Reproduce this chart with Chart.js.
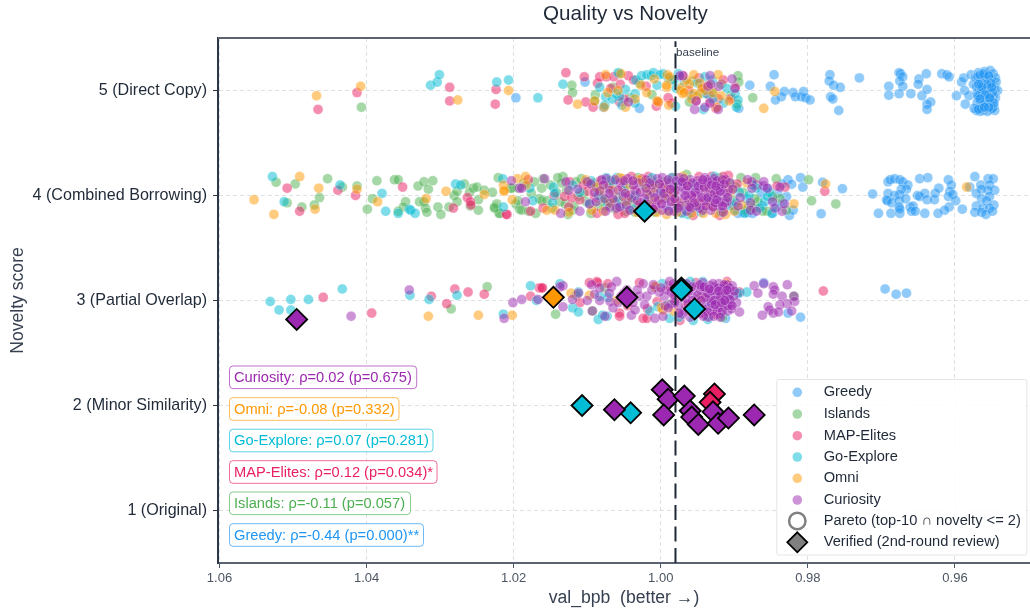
<!DOCTYPE html>
<html><head><meta charset="utf-8">
<script src="https://cdn.jsdelivr.net/npm/chart.js@4"></script>
<style>html,body{margin:0;padding:0;background:#fff}canvas{display:block}</style>
</head><body><canvas id="c" width="1030" height="613"></canvas>
<script>
const seriesNames = ["Greedy","Islands","MAP-Elites","Go-Explore","Omni","Curiosity"];
const seriesColors = ["33,150,243","76,175,80","233,30,99","0,188,212","255,152,0","156,39,176"];
const scoreLabels = {1:"1 (Original)",2:"2 (Minor Similarity)",3:"3 (Partial Overlap)",4:"4 (Combined Borrowing)",5:"5 (Direct Copy)"};
const xTicks = [1.06,1.04,1.02,1.00,0.98,0.96];
const baselineValue = 0.998;
const correlations = ["Curiosity: ρ=0.02 (p=0.675)","Omni: ρ=-0.08 (p=0.332)","Go-Explore: ρ=0.07 (p=0.281)","MAP-Elites: ρ=0.12 (p=0.034)*","Islands: ρ=-0.11 (p=0.057)","Greedy: ρ=-0.44 (p=0.000)**"];

const greedy = [
[.9846,5.15],[.9879,5.05],[.9851,5.04],[.9832,4.99],[.9836,4.94],[.9844,4.91],[.9820,4.98],[.9817,4.94],[.9806,4.99],[.9809,4.94],[.9803,4.93],[.9797,4.91],[.9770,5.15],[.9771,5.09],[.9765,5.05],[.9756,5.03],[.9769,4.94],[.9766,4.92],[.9758,4.81],[.9730,5.12],[.9894,4.83],[1.0103,5.08],[1.0029,4.83],[1.0078,4.84],[1.0197,4.93],
[.9676,5.17],[.9674,5.16],[.9671,5.13],[.9675,5.09],[.9671,5.04],[.9690,5.04],[.9690,4.955],[.9676,4.97],[.9660,4.97],[.9645,4.95],[.9638,5.01],[.9649,5.11],[.9650,5.06],[.9639,5.16],[.9633,4.89],[.9638,4.87],[.9638,4.82],[.9618,5.16],[.9611,5.15],[.9608,5.13],[.9591,5.08],[.9588,5.12],[.9578,5.15],[.9587,5.0],[.9598,4.95],[.9581,4.95],[.9586,4.87],[.9575,5.06],
[.9572,5.12],[.9568,5.17],[.9563,5.14],[.9560,5.18],[.9556,5.15],[.9552,5.19],[.9548,5.16],[.9545,5.12],[.9550,5.11],[.9555,5.09],[.9560,5.1],[.9566,5.08],[.9571,5.04],[.9567,5.02],[.9562,5.05],[.9558,5.03],[.9553,5.06],[.9548,5.05],[.9544,5.08],[.9546,5.01],[.9542,5.0],[.9551,5.0],[.9556,4.99],[.9561,5.0],[.9565,4.97],[.9570,4.98],[.9568,4.93],[.9563,4.95],[.9558,4.94],[.9553,4.96],[.9548,4.95],[.9545,4.93],[.9549,4.9],[.9555,4.9],[.9560,4.91],[.9565,4.89],[.9570,4.88],[.9567,4.84],[.9562,4.86],[.9557,4.85],[.9552,4.87],[.9547,4.85],[.9546,4.81],[.9551,4.82],[.9556,4.8],[.9561,4.81],[.9566,4.8],[.9571,4.81],[.9574,4.83],[.9569,5.13],[.9564,5.07],[.9559,5.13],[.9554,5.02],[.9549,4.98],[.9557,4.97],[.9564,5.01],[.9569,4.95],[.9552,4.92],[.9559,4.88],[.9564,4.83],[.9549,4.83],
[.9566,5.15],[.9561,5.16],[.9554,5.14],[.9551,5.07],[.9557,5.06],[.9563,5.03],[.9568,5.06],[.9550,5.03],[.9559,4.96],[.9566,4.92],[.9547,4.88],[.9554,4.84],[.9568,4.82],[.9560,4.84],[.9553,4.93],
[.9827,4.15],[.9810,4.17],[.9822,4.107],[.9807,4.08],[.9780,4.126],[.9753,4.065],[.9782,3.827],[.9888,3.836],[.9882,3.836],[.9863,4.02],[.9868,4.1],[.9856,4.07],[.9848,3.83],[.9825,3.81],[.9820,3.86],[.9834,3.93],[.9848,3.96],[.9875,3.83],[.9862,3.9],[.9841,4.02],[.9829,3.99],[.9895,3.83],[.9835,4.11],
[.9712,4.014],[.9704,3.83],[.9687,3.83],[.9675,3.83],[.9691,4.13],[.9688,4.15],[.9682,4.16],[.9675,4.15],[.9671,4.13],[.9664,4.10],[.9666,4.06],[.9673,4.06],[.9675,4.01],[.9682,4.0],[.9691,4.02],[.9693,3.96],[.9692,3.95],[.9686,3.93],[.9676,3.95],[.9676,3.89],[.9675,3.87],[.9667,3.97],[.9661,3.89],[.9657,3.90],[.9659,3.85],[.9654,3.85],[.9641,3.83],[.9648,4.16],[.9637,4.17],[.9651,4.0],[.9648,3.99],[.9641,4.02],[.9638,3.96],[.9628,3.96],[.9627,4.02],[.9622,4.07],[.9609,4.15],[.9605,4.10],[.9607,4.04],[.9609,3.99],[.9603,4.01],[.9599,3.95],[.9608,3.89],[.9614,3.86],[.9623,3.83],[.9590,3.87],[.9573,4.18],[.9555,4.16],[.9548,4.16],[.9565,4.10],[.9553,4.10],[.9580,4.08],[.9546,4.05],[.9555,4.05],[.9564,4.06],[.9571,4.02],[.9564,3.97],[.9553,3.99],[.9557,3.95],[.9547,3.91],[.9571,3.90],[.9562,3.88],[.9553,3.88],[.9573,3.84],[.9564,3.84],[.9558,3.82],[.9549,3.85],
[.9810,2.84],[.9827,2.88],[.9860,3.17],[.9909,3.12],[.9695,3.11],[.9680,3.06],[.9666,3.07],[.9893,3.07],[.9933,2.96],[.9912,2.83]
];
const islands = [
[1.0407,4.84],[1.0121,5.05],[1.0120,4.98],[1.0089,4.96],[1.0090,4.9],[1.0065,5.03],[.9895,5.14],[.9894,5.08],[.9875,4.93],[.9896,4.87],[1.0056,5.16],[.9947,4.97],[.9961,4.89],[1.0029,5.07],[.9929,4.98],[1.0042,4.93],[.9985,5.1],[.9918,5.06],[.9905,4.95],[1.0012,4.96],[.9956,5.09],
[1.0523,4.126],[1.0497,4.11],[1.0453,4.16],[1.0413,4.09],[1.0433,4.08],[1.0464,3.98],[1.0471,3.91],[1.0488,3.89],[1.0508,3.93],[1.0386,4.14],[1.0362,4.15],[1.0357,4.15],[1.0392,3.97],[1.0399,3.87],[1.0347,3.94],[1.0350,3.89],[1.0357,3.85],[1.0330,4.09],[1.0322,4.13],[1.0310,4.14],[1.0316,4.06],[1.0328,3.94],[1.0322,3.94],[1.0320,3.88],[1.0318,3.84],[1.0303,3.89],[1.0299,3.82],[1.0288,3.89],[1.0281,4.0],[1.0277,4.04],[1.0277,3.94],[1.0267,4.11],[1.0260,4.03],[1.0255,4.07],[1.0250,4.08],[1.0240,4.05],[1.0229,4.03],[1.0248,3.96],[1.0259,3.9],[1.0248,3.86],[1.0226,3.89],[1.0223,3.92],[1.0220,3.83],[1.0197,3.92],[1.0192,3.87],[1.0221,4.17],[1.0204,4.07],[1.0194,4.07],
[1.0160,4.16],[1.0162,4.07],[1.0133,4.18],[1.0140,4.17],[1.0108,4.16],[1.0115,4.13],[1.0165,3.97],[1.0162,3.95],[1.0189,3.86],[1.0194,3.95],[1.0180,3.85],[1.0170,3.83],[1.0126,3.82],[1.0137,3.94],[1.0087,4.07],[1.0101,3.94],[1.0219,3.83],[1.0226,3.88],[1.0203,4.07],
[1.0150,4.1],[1.0148,3.88],[1.0128,4.05],[1.0120,3.86],[1.0105,4.02],[1.0095,3.83],[1.0080,3.98],[1.0068,4.14],[1.0062,3.87],[1.0050,4.04],[1.0038,3.93],[1.0022,4.1],[1.0008,3.84],[.9994,4.13],[.9980,3.94],[1.0118,3.9],[1.0135,4.12],[1.0176,4.02],[1.0186,4.12],[1.0090,4.12],[1.0075,3.9],[1.0043,3.96],[1.0015,4.01],[.9960,3.86],[.9920,4.17],[.9888,4.03],[.9880,3.9],[.9855,3.85],[.9838,3.97],
[1.0172,4.13],[1.0155,3.95],[1.0142,4.03],[1.0130,3.92],[1.0112,3.99],[1.0098,4.12],[1.0085,3.9],[1.0072,4.08],[1.0058,3.98],[1.0030,3.9],[1.0005,4.09],[.9912,3.95],[.9906,4.12],[.9868,3.94],[.9885,3.86],
[.9795,3.95],[.9762,3.92],[.9799,4.15],[.9891,4.17],[.9871,4.17],[.9843,4.16],[.9898,4.08],[.9872,3.97],[.9874,3.88],[.9902,3.96],[.9848,3.99],[.9829,3.86],[.9861,3.85],[.9965,4.2],[1.0031,4.17],[1.0047,3.85],[1.0011,4.13],[1.0075,3.95],[1.0035,3.84],[.9975,3.88],
[1.0236,3.13],[1.0285,2.92],[1.0143,2.87],[1.0093,2.9],[1.0076,3.12],[.9916,2.84],[.9819,3.04],[1.0115,3.05],[1.0040,3.02],[.9990,2.96]
];
const mapElites = [
[1.0466,4.82],[1.0413,4.98],[1.0287,5.03],[1.0287,4.9],[1.0224,5.01],[1.0225,4.87],[1.0129,5.17],[1.0126,4.91],[1.0104,5.13],[1.0102,4.89],[1.0086,5.07],[1.0092,4.84],[1.0083,5.13],[1.0074,5.13],[1.0064,5.13],[1.0055,5.06],[1.0044,5.14],[1.0056,4.89],[1.0006,4.85],[.9990,4.93],[1.0004,4.89],[.9899,5.03],[.9922,4.92],[.9952,4.9],[.9970,5.14],[.9933,4.89],[.9925,4.83],[.9942,5.03],[1.0068,5.02],[1.0050,4.92],[.9985,4.88],[.9962,5.0],[.9915,5.1],[.9905,4.92],[1.0020,5.04],[1.0037,5.1],[.9948,5.12],[.9935,4.96],
[1.0508,4.07],[1.0491,3.85],[1.0439,4.05],[1.0415,4.0],[1.0351,4.08],[1.0282,3.88],[1.0263,3.98],[1.0259,3.94],[1.0258,3.91],[1.0209,3.82],[1.0180,4.15],[1.0177,3.85],[1.0210,3.82],[1.0160,3.88],[1.0125,3.89],[1.0131,3.99],[1.0124,4.13],[1.0121,3.98],[1.0110,3.96],[1.0099,4.04],[1.0087,3.83],[1.0058,3.82],[1.0040,4.18],[.9908,4.19],[.9948,4.18],[.9931,4.18],[.9956,3.81],[.9920,3.81],[.9777,4.04],[.9831,4.08],[1.0011,3.88],[.9984,4.17],[.9977,3.88],[.9938,3.97],[.9902,3.91],[1.0029,3.88],[1.0049,3.83],
[1.0105,4.1],[1.0082,4.14],[1.0063,3.95],[1.0052,4.08],[1.0033,4.03],[1.0017,4.18],[1.0002,3.95],[.9990,4.04],[.9972,3.84],[.9962,4.1],[.9925,4.12],[.9915,3.87],[.9896,4.11],[.9870,4.1],[.9842,4.09],[1.0028,3.93],[1.0090,3.98],
[1.0145,4.0],[1.0070,4.1],[1.0043,4.0],[1.0025,4.16],[.9997,4.1],[.9982,4.03],[.9955,3.98],[.9942,3.93],[.9930,3.9],[.9915,4.18],
[1.0459,3.03],[1.0393,2.88],[1.0312,3.04],[1.0291,2.97],[1.0280,3.11],[1.0262,3.08],[1.0240,3.06],[1.0177,3.04],[1.0165,3.12],[1.0162,3.12],[1.0110,2.98],[1.0087,3.18],[1.0072,3.16],[1.0056,2.88],[1.0018,2.92],[1.0024,2.83],[.9779,3.09],[.9893,3.08],[1.0019,2.83],[1.0161,3.12],[1.0086,3.17],[1.0097,3.17],[1.0056,2.85],[1.0029,3.17],[.9974,2.81],[.9938,2.85],[.9990,3.14],[.9965,2.95],[.9952,3.17],[.9925,2.87],[1.0005,2.99],[1.0045,2.95],[.9980,3.02],[.9910,3.18]
];
const goExplore = [
[1.0313,5.05],[1.0304,5.08],[1.0301,5.15],[1.0223,5.08],[1.0207,5.1],[1.0167,4.93],[1.0133,5.06],[1.0083,5.03],[1.0058,5.17],[1.0060,4.97],[1.0075,4.94],[1.0053,4.86],[1.0056,4.94],[1.0035,4.97],[1.0034,5.1],[1.0026,5.14],[1.0019,5.15],[1.0013,5.14],[.9997,5.16],[1.0005,5.05],[.9982,5.1],[.9980,4.85],[.9976,5.16],[.9940,5.13],[.9942,4.82],[.9950,5.07],[.9938,4.97],[.9899,4.97],[.9895,4.91],[.9897,4.84],[1.0035,4.88],[1.0076,4.86],[.9929,4.92],[1.0066,4.92],[1.0010,5.17],[.9990,5.12],[.9968,5.08],[.9958,4.95],[.9930,5.1],[.9915,4.88],[.9910,5.02],[1.0048,5.01],[1.0001,5.15],[.9979,5.02],
[1.0528,4.18],[1.0512,3.94],[1.0436,4.1],[1.0379,4.02],[1.0374,3.85],[1.0357,3.83],[1.0342,3.87],[1.0340,3.86],[1.0334,3.83],[1.0279,4.11],[1.0272,4.1],[1.0214,3.89],[1.0215,4.16],[1.0178,4.07],[1.0174,3.95],[1.0146,4.08],[1.0144,4.02],[1.0147,3.93],[1.0074,4.17],[1.0060,4.17],[1.0060,3.94],[1.0097,3.92],
[.9963,3.82],[.9950,3.88],[.9899,3.86],[.9883,3.97],[.9886,3.83],[.9849,3.83],[.9977,3.89],[.9927,4.18],[.9870,4.07],[1.0035,4.0],[1.0047,4.1],[1.0052,3.91],[.9859,3.94],[.9843,3.89],
[1.0120,4.1],[1.0085,4.0],[1.0026,3.85],[1.0012,4.17],[.9996,3.98],[.9985,4.17],[.9971,3.83],[.9945,3.84],[.9918,3.84],[.9905,3.9],[.9893,4.03],[.9880,4.0],[.9865,3.88],[1.0065,4.13],[1.0038,3.87],[.9973,4.14],[.9955,4.1],
[1.0110,4.03],[1.0095,4.14],[1.0072,3.92],[1.0020,3.93],[1.0000,4.02],[.9990,3.86],[.9965,3.9],[.9935,3.96],[.9898,3.93],[.9875,4.1],[.9855,3.99],[.9852,4.03],
[1.0531,2.99],[1.0519,2.91],[1.0503,3.01],[1.0479,3.01],[1.0503,2.91],[1.0433,3.11],[1.0341,3.05],[1.0315,3.01],[1.0277,3.05],[1.0177,3.14],[1.0169,3.0],[1.0214,2.87],[1.0137,3.16],[1.0112,3.08],[1.0120,2.93],[1.0112,2.89],[1.0085,2.82],[1.0073,2.85],[1.0083,3.04],[.9988,2.83],[1.0004,2.94],[.9956,2.81],[.9895,3.07],[.9883,3.08],[.9906,3.02],[.9943,3.18],[1.0072,3.03],[1.0079,2.86],[.9975,2.84],[.9960,3.18],[.9936,2.82],[.9998,3.16],[1.0015,2.9],[.9922,3.02]
];
const omni = [
[1.0468,4.95],[1.0408,5.04],[1.0276,4.91],[1.0207,5.0],[1.0113,4.87],[1.0075,5.15],[1.0054,5.16],[1.0072,4.98],[1.0090,4.9],[1.0077,4.84],[1.0048,4.84],[1.0019,4.98],[1.0009,5.11],[.9991,5.15],[.9992,5.03],[.9989,4.86],[1.0003,4.89],[.9971,5.03],[.9955,5.15],[.9961,5.06],[.9956,4.97],[.9922,5.15],[.9940,5.0],[.9929,4.98],[.9907,4.9],[.9924,4.84],[.9947,5.07],[.9970,4.97],[1.0035,4.92],[1.0027,5.05],[.9845,4.99],[.9860,4.83],[.9973,5.0],[.9968,4.98],[.9950,4.95],[.9944,5.02],[.9988,5.13],[.9992,5.05],[.9965,5.1],[.9958,4.92],[.9935,5.05],[.9918,4.95],[1.0005,4.9],[1.0058,5.0],
[1.0553,3.96],[1.0526,3.82],[1.0491,4.18],[1.0465,4.07],[1.0470,3.87],[1.0413,4.06],[1.0385,3.94],[1.0319,3.97],[1.0292,4.04],[1.0240,4.01],[1.0214,4.1],[1.0213,4.05],[1.0213,4.04],[1.0202,3.96],[1.0195,4.16],[1.0184,4.18],[1.0155,3.86],[1.0144,3.86],[1.0094,3.86],[1.0087,4.08],[1.0056,4.17],[1.0069,3.93],[1.0183,4.1],
[1.0024,4.13],[.9988,3.99],[.9992,3.82],[.9970,4.18],[.9942,3.83],[.9912,3.82],[.9883,4.12],[.9890,3.91],[.9819,3.92],[.9776,4.11],[.9911,4.1],[.9933,3.91],[1.0010,4.07],[1.0042,4.1],[.9981,3.94],[.9965,4.13],[.9584,4.08],
[1.0125,3.84],[1.0102,4.15],[1.0078,3.85],[1.0048,3.94],[1.0032,3.84],[1.0018,4.04],[.9998,3.97],[.9975,3.93],[.9958,3.83],[.9925,3.83],[.9950,3.92],[.9928,4.03],[.9900,3.85],[1.0005,3.84],
[1.0065,4.05],[1.0052,4.16],[1.0012,3.95],[.9992,4.05],[.9978,3.84],[.9962,3.92],[.9940,4.07],[.9918,4.13],[.9905,4.04],[1.0030,4.15],[1.0082,4.05],
[1.0316,2.85],[1.0248,2.86],[1.0202,2.86],[1.0122,3.07],[1.0097,3.05],[1.0007,3.13],[1.0008,3.13],[.9999,2.93],[.9911,3.16],[.9997,2.91],[1.0060,3.0],[.9982,2.9],[.9945,3.03]
];
const curiosity = [
[1.0044,4.89],[.9970,5.14],[.9954,4.82],[.9952,4.9],[.9933,5.14],[.9936,5.04],[.9921,5.04],[.9903,5.11],[.9922,4.82],[.9933,4.88],[.9899,5.02],[.9974,5.14],[.9932,5.06],[.9940,4.84],
[1.0203,4.14],[1.0192,4.07],[1.0189,4.07],[1.0184,3.94],[1.0158,4.16],[1.0136,3.83],[1.0129,4.13],[1.0113,4.06],[1.0100,4.13],[1.0097,3.92],[1.0088,3.94],[1.0083,4.04],[1.0074,4.16],[1.0069,4.05],[1.0069,3.89],[1.0060,3.88],[1.0056,3.89],[1.0076,3.97],[1.0065,3.97],[1.0051,3.99],[1.0047,3.91],
[1.0095,4.11],[1.0070,4.02],[1.0055,4.12],[1.0045,4.16],[1.0040,3.98],[1.0030,4.12],[1.0020,4.15],[1.0015,3.92],[1.0010,4.03],[1.0005,4.16],[.9998,4.17],[.9995,4.08],[.9992,3.9],[.9988,4.12],[.9985,4.0],[.9980,3.93],[.9977,4.05],[.9975,4.17],[.9970,3.97],[.9968,4.12],[.9965,3.85],[.9962,4.02],[.9960,4.15],[.9958,3.92],[.9955,4.07],[.9952,3.98],[.9950,4.14],[.9947,3.88],[.9945,4.03],[.9942,3.95],[.9940,4.17],[.9938,4.1],[.9935,4.01],[.9932,3.86],[.9930,4.13],[.9928,3.97],[.9925,4.05],[.9922,3.9],[.9920,4.11],[.9918,4.0],[.9915,3.84],[.9912,4.15],[.9910,3.94],[.9908,4.05],
[1.0035,4.05],[1.0025,3.9],[1.0018,4.01],[1.0003,3.96],[1.0000,4.04],[.9998,3.86],[.9990,4.15],[.9982,3.85],[.9972,4.08],[.9963,3.96],[.9957,4.12],[.9948,4.05],[.9943,3.86],[.9937,4.15],[.9933,3.94],[.9927,4.16],[.9923,4.02],[.9917,4.08],[.9913,3.93],
[1.0050,4.14],[1.0042,3.86],[1.0037,4.1],[1.0022,3.97],[1.0012,4.1],[1.0007,3.9],[.9993,3.97],[.9989,3.85],[.9983,4.08],[.9979,4.14],[.9973,3.9],[.9966,4.05],[.9959,3.88],[.9953,4.03],[.9946,4.12],[.9939,3.9],[.9934,4.06],[.9929,3.89],[.9924,4.14],[.9919,3.94],[.9916,4.15],[.9911,4.02],[1.0032,3.95],[1.0002,4.11],[.9986,3.94],[.9969,4.16],[.9951,3.9],[.9936,4.13],[.9926,3.93],[.9921,4.07],[1.0080,4.15],[1.0075,3.85],[1.0062,4.15],[1.0110,3.85],[1.0125,4.05],
[1.0090,4.03],[1.0078,4.1],[1.0058,4.05],[1.0048,4.02],[1.0038,4.14],[1.0028,4.03],[1.0015,4.12],[1.0008,3.98],[.9996,4.02],[.9987,4.06],[.9981,3.97],[.9976,3.88],[.9971,4.13],[.9964,4.09],[.9958,4.0],[.9954,3.93],[.9949,4.09],[.9944,3.98],[.9941,4.08],[.9936,3.98],[.9931,4.1],[.9927,4.02],[.9924,3.96],[.9919,4.04],[.9916,3.9],[.9914,4.11],[.9909,3.98],[.9906,4.12],[1.0020,4.07],[1.0010,3.87],[.9999,3.92],[.9967,4.0],[.9961,3.89],[.9943,4.15],[.9925,4.09],
[.9876,4.13],[.9876,4.07],[.9882,4.15],[.9895,3.9],[.9878,3.93],[.9878,3.86],[.9860,4.09],[.9860,4.13],[.9855,4.07],[.9848,3.94],[.9845,3.88],[.9835,3.85],[.9832,3.92],[.9838,4.08],[.9870,3.85],[.9902,4.06],[.9892,3.98],
[1.0421,2.85],[1.0342,3.1],[1.0201,2.98],[1.0189,3.01],[1.0213,2.83],[1.0167,3.01],[1.0133,3.14],[1.0137,3.13],[1.0133,2.94],[1.0120,3.01],[1.0112,3.07],[1.0094,3.15],[1.0083,3.12],[1.0093,2.9],[1.0083,3.0],[1.0069,2.99],[1.0060,3.18],[1.0067,3.13],[1.0065,2.93],[1.0040,2.86],[1.0076,2.85],[1.0035,2.91],[1.0024,3.16],[1.0029,3.04],[1.0019,3.04],[1.0008,2.83],[.9995,3.04],[.9992,3.1],[.9988,3.18],[.9997,2.85],[.9985,2.97],
[.9873,3.14],[.9868,3.07],[.9860,3.16],[.9828,3.15],[.9847,3.13],[.9845,3.1],[.9847,3.06],[.9835,3.04],[.9819,3.04],[.9818,2.99],[.9828,2.97],[.9838,2.96],[.9854,2.94],[.9852,2.91],[.9847,2.88],[.9840,2.89],[.9822,2.9],[.9862,2.86],[.9893,2.89],[.9897,2.98],
[.9978,3.12],[.9972,3.03],[.9968,2.9],[.9965,3.16],[.9960,2.84],[.9958,3.06],[.9955,2.95],[.9952,3.13],[.9948,3.02],[.9945,2.88],[.9943,3.17],[.9940,3.08],[.9937,2.97],[.9935,2.84],[.9933,3.14],[.9930,3.05],[.9928,2.93],[.9926,3.1],[.9923,2.98],[.9921,3.16],[.9919,2.87],[.9917,3.07],[.9915,2.94],[.9913,3.13],[.9911,3.02],[.9909,2.9],[.9908,3.09],[.9905,2.97],[.9903,3.14],[.9901,3.04],[.9938,3.11],[.9925,3.0],[.9914,3.05],[.9932,2.9],[.9946,3.1],[.9927,3.13],[.9921,2.93],[.9918,3.01],[.9910,3.15],
[.9976,2.95],[.9962,3.09],[.9950,3.05],[.9942,2.92],[.9934,3.02],[.9929,3.16],[.9924,3.06],[.9920,2.95],[.9916,3.11],[.9912,2.97],[.9907,3.05],[.9904,2.92],[.9931,2.97],[.9936,3.07],[.9944,3.13],[.9953,2.87],[.9970,3.1],[.9981,2.98],[.9986,3.08],[.9994,2.95],[1.0002,3.08],[1.0012,3.1],[1.0022,2.96],[1.0032,3.1],[1.0038,2.98],[1.0050,3.07],[1.0058,2.98],[1.0070,3.07],[1.0090,3.06],[1.0100,3.0],
[.9966,3.02],[.9957,3.0],[.9951,2.92],[.9947,3.15],[.9939,3.03],[.9936,2.89],[.9931,3.09],[.9928,3.0],[.9924,2.89],[.9922,3.12],[.9919,3.04],[.9916,2.9],[.9914,3.15],[.9912,3.07],[.9909,2.95],[.9906,3.12],[.9906,3.01],[.9903,2.95],[.9900,3.09],[.9941,3.13],[.9934,3.11],[.9926,2.96],[.9921,3.09],[.9917,2.98],[.9913,3.0],[.9910,3.1],[.9942,2.85],[.9928,2.85],[.9919,2.84],[.9945,3.0],[.9948,2.91],[.9958,3.13],[.9963,2.97],[.9971,2.87],[.9983,3.16],
[1.0046,3.1],[1.0010,3.15],[.9982,3.05],[.9975,2.88],[1.0000,3.12],[1.0054,3.04],[.9990,2.93]
];

const verifiedCuriosity = [[1.0495,2.82],[1.0046,3.03],[.9998,2.15],[.9990,2.06],[1.0063,1.96],[.9996,1.91],[.9968,2.09],[.9960,1.95],[.9958,1.89],[.9949,1.82],[.9929,1.94],[.9922,1.83],[.9908,1.88],[.9873,1.91]];
const verifiedGoExplore = [[1.0022,3.85],[.9972,3.12],[.9972,3.1],[.9954,2.92],[1.0107,2.0],[1.0041,1.93]];
const verifiedOmni = [[1.0146,3.03]];
const verifiedMapElites = [[.9927,2.11],[.9933,2.03]];

const seriesData = [greedy,islands,mapElites,goExplore,omni,curiosity];
const toPts = a => a.map(p => ({x:p[0],y:p[1]}));
const datasets = [];
seriesNames.forEach((n,i) => datasets.push({
  label:n, type:'scatter', data:toPts(seriesData[i]), order:100-i,
  backgroundColor:`rgba(${seriesColors[i]},0.5)`, borderColor:'rgba(255,255,255,0.5)', borderWidth:0.6, pointRadius:5
}));
datasets.push({label:'baseline',type:'scatter',showLine:true,data:[{x:baselineValue,y:0.5},{x:baselineValue,y:5.47}],
  borderColor:'#1f2937',borderWidth:2,borderDash:[15,6.5],pointRadius:0,order:50,fill:false});
[[verifiedMapElites,2],[verifiedOmni,4],[verifiedGoExplore,3],[verifiedCuriosity,5]].forEach(([d,i],k) => datasets.push({
  label:'Verified '+seriesNames[i],type:'scatter',data:toPts(d),order:40-k,pointStyle:'rectRot',pointRadius:10.5,
  backgroundColor:`rgb(${seriesColors[i]})`,borderColor:'#000',borderWidth:1.8
}));

const FONT = '"Liberation Sans", Arial, sans-serif';
const overlay = {
  id:'overlay',
  afterDraw(chart){
    const {ctx,chartArea:a,scales:{x}} = chart;
    ctx.save();
    ctx.strokeStyle='#5b6270';ctx.lineWidth=2;ctx.beginPath();ctx.moveTo(a.left,a.top);ctx.lineTo(a.right,a.top);ctx.stroke();
    ctx.fillStyle='#1f2937';ctx.font='20.6px '+FONT;ctx.textAlign='center';ctx.textBaseline='middle';
    ctx.fillText('Quality vs Novelty',625.5,14);
    ctx.fillStyle='#374151';ctx.font='11.6px '+FONT;ctx.textAlign='left';
    ctx.fillText('baseline',x.getPixelForValue(baselineValue)+0.5,52.5);
    const ys=[377.3,409,440.5,472,503.3,535],rights=[416.7,399,433,437,410.5,423.5];
    const colors=[5,4,3,2,1,0];
    correlations.forEach((t,i)=>{
      const c=seriesColors[colors[i]];
      ctx.beginPath();ctx.roundRect(229.5,ys[i]-11.3,rights[i]-229.5,22.6,3.5);
      ctx.fillStyle='rgba(255,255,255,0.85)';ctx.fill();
      ctx.strokeStyle=`rgba(${c},0.65)`;ctx.lineWidth=1;ctx.stroke();
      ctx.fillStyle=`rgb(${c})`;ctx.font='14.67px '+FONT;ctx.textAlign='left';ctx.textBaseline='middle';
      ctx.fillText(t,234,ys[i]+0.5);
    });
    ctx.beginPath();ctx.roundRect(776.8,379.5,250,175.5,2);
    ctx.fillStyle='rgba(255,255,255,0.9)';ctx.fill();ctx.strokeStyle='#e3e5e8';ctx.lineWidth=1;ctx.stroke();
    const ly=[392.3,414,435.7,457,478.3,500,521,542.3];
    const names=[...seriesNames,'Pareto (top-10 ∩ novelty <= 2)','Verified (2nd-round review)'];
    names.forEach((n,i)=>{
      if(i<6){ctx.beginPath();ctx.arc(797.3,ly[i],4.8,0,Math.PI*2);ctx.fillStyle=`rgba(${seriesColors[i]},0.5)`;ctx.fill();}
      else if(i===6){ctx.beginPath();ctx.arc(797.3,ly[i],8.2,0,Math.PI*2);ctx.strokeStyle='#808080';ctx.lineWidth=2.5;ctx.stroke();}
      else{ctx.beginPath();ctx.moveTo(797.3,ly[i]-10);ctx.lineTo(807.3,ly[i]);ctx.lineTo(797.3,ly[i]+10);ctx.lineTo(787.3,ly[i]);ctx.closePath();ctx.fillStyle='#808080';ctx.fill();ctx.strokeStyle='#000';ctx.lineWidth=1.8;ctx.stroke();}
      ctx.fillStyle='#1f2937';ctx.font='14.67px '+FONT;ctx.textAlign='left';ctx.textBaseline='middle';
      ctx.fillText(n,823.7,ly[i]);
    });
    ctx.restore();
  }
};

new Chart(document.getElementById('c'),{
  type:'scatter',
  data:{datasets},
  plugins:[overlay],
  options:{
    responsive:false,animation:false,devicePixelRatio:1,
    layout:{autoPadding:false,padding:{left:7.4,top:38,right:0,bottom:4.4}},
    plugins:{legend:{display:false},tooltip:{enabled:false},title:{display:false}},
    scales:{
      x:{type:'linear',reverse:true,min:0.9498,max:1.0602,
        afterBuildTicks(s){s.ticks=xTicks.map(v=>({value:v}));},
        afterFit(s){s.height=45.6;s.paddingLeft=0;s.paddingRight=0;},
        ticks:{autoSkip:false,maxRotation:0,color:'#4b5563',font:{family:FONT,size:13},padding:3,callback:v=>Number(v).toFixed(2)},
        grid:{color:'rgba(190,195,200,0.5)',tickColor:'#4b5563',tickLength:5,lineWidth:1},
        border:{color:'#5b6270',width:2,dash:[4,3]},
        title:{display:true,text:'val_bpb  (better →)',color:'#374151',font:{family:FONT,size:17.6},padding:0}
      },
      y:{type:'linear',min:0.5,max:5.5,
        afterBuildTicks(s){s.ticks=[1,2,3,4,5].map(v=>({value:v}));},
        afterFit(s){s.width=210.6;s.paddingTop=0;s.paddingBottom=0;},
        ticks:{autoSkip:false,color:'#1f2937',font:{family:FONT,size:16.1},padding:6,callback:v=>scoreLabels[v]||''},
        grid:{color:'rgba(190,195,200,0.5)',tickColor:'#2d3748',tickLength:5,lineWidth:1},
        border:{color:'#2d3748',width:2,dash:[4,3]},
        title:{display:true,text:'Novelty score',color:'#374151',font:{family:FONT,size:17.6},padding:0}
      }
    }
  }
});
</script></body></html>
